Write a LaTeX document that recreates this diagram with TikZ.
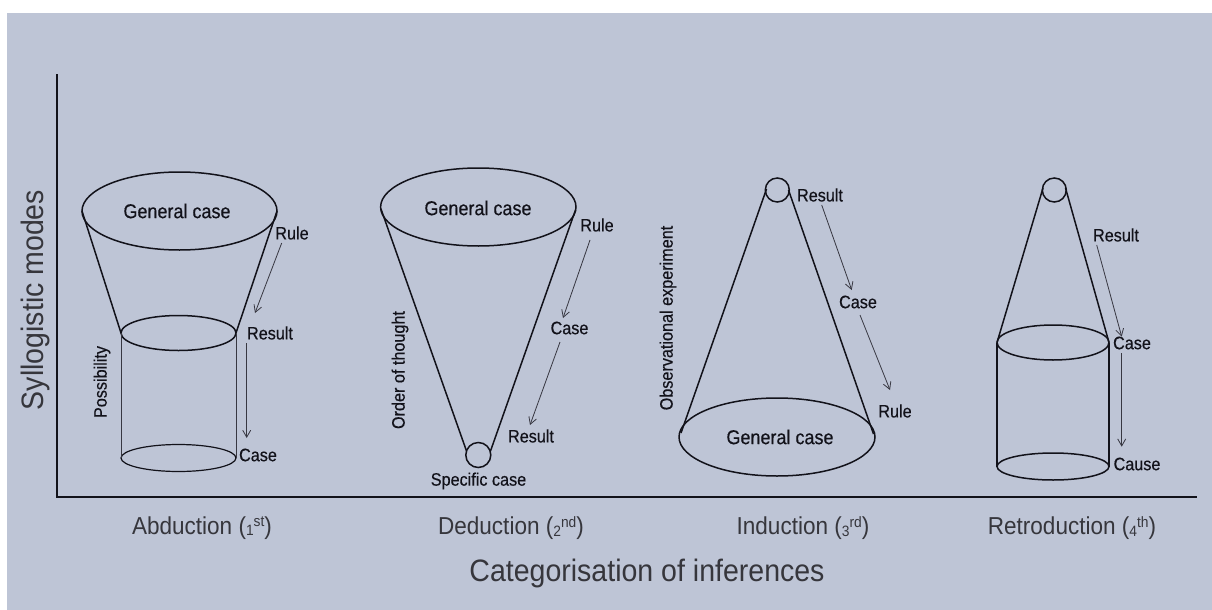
\documentclass[tikz,border=0pt]{standalone}
\usepackage{fontspec}
\setmainfont{Liberation Sans}
\newfontfamily\labelfont[FakeStretch=0.9,FakeBold=0.4]{Liberation Sans}
\newfontfamily\axisfont[FakeStretch=0.92]{Liberation Sans}
\usetikzlibrary{arrows.meta}

\definecolor{panel}{RGB}{190,197,214}
\definecolor{ink}{RGB}{18,18,26}
\definecolor{thinink}{RGB}{55,55,65}

% ordinal such as 1st: small digit on the line, suffix raised
\newcommand{\ordinalmark}[2]{({\fontsize{15}{15}\selectfont\raisebox{-1.5pt}{#1}\raisebox{7.5pt}{#2}})}

\tikzset{
  outline/.style={draw=ink, line width=1.5pt},
  rimline/.style={draw=ink, line width=1.2pt},
  hairline/.style={draw=thinink, line width=0.7pt},
  flow/.style={draw=thinink, line width=0.8pt, -{Straight Barb[length=7pt,width=8pt]}},
  lbl/.style={inner sep=0pt, font=\labelfont\fontsize{18}{20}\selectfont, text=ink},
  biglbl/.style={inner sep=0pt, font=\labelfont\fontsize{20}{22}\selectfont, text=ink},
  axlbl/.style={inner sep=0pt, font=\axisfont\fontsize{24.5}{26}\selectfont, text=ink!85},
  titlelbl/.style={inner sep=0pt, font=\axisfont\fontsize{31}{33}\selectfont, text=ink!85},
  axis/.style={draw=ink, line width=2.2pt},
}

\begin{document}
\begin{tikzpicture}[x=1pt,y=-1pt]
\useasboundingbox (0,0) rectangle (1212,610);
\fill[white] (0,0) rectangle (1212,610);
\fill[panel] (7,13) rectangle (1212,610);

% axes
\coordinate (ytop) at (57,74);
\coordinate (origin) at (57,497.3);
\coordinate (xend) at (1196.7,497.3);
\draw[axis] (ytop) -- (origin) -- (xend);
\node[titlelbl, rotate=90] (ylab) at (35,300) {Syllogistic modes};
\node[titlelbl] (xlab) at (647,573) {Categorisation of inferences};

% ---------- Abduction ----------
\draw[outline] (179.5,211) ellipse [x radius=97.5pt, y radius=39pt];
\draw[outline] (178.5,333) ellipse [x radius=57.5pt, y radius=17.5pt];
\draw[rimline] (178.5,458) ellipse [x radius=57.5pt, y radius=13.5pt];
\draw[outline] (82,211) -- (121,333);
\draw[outline] (277,211) -- (236,333);
\draw[hairline] (121,333) -- (121,458);
\draw[hairline] (236,333) -- (236,458);
\node[biglbl] (abd-gen) at (177,211) {General case};
\node[lbl] (abd-rule) at (292,233) {Rule};
\node[lbl] (abd-res) at (270,333) {Result};
\node[lbl] (abd-case) at (258,455) {Case};
\node[lbl, rotate=90] (abd-poss) at (102,382) {Possibility};
\coordinate (abd-a1) at (281.7,243);
\coordinate (abd-a2) at (255,313);
\coordinate (abd-a3) at (246.7,343);
\coordinate (abd-a4) at (246.7,438);
\draw[flow] (abd-a1) -- (abd-a2);
\draw[flow] (abd-a3) -- (abd-a4);
\node[axlbl] (abd-name) at (202,528) {Abduction \ordinalmark{1}{st}};

% ---------- Deduction ----------
\draw[outline] (478.3,207) ellipse [x radius=97.7pt, y radius=39pt];
\draw[outline] (478.3,455) circle [radius=12.5pt];
\draw[outline] (381,209) -- (466.5,451);
\draw[outline] (575.5,210) -- (490.5,451);
\node[biglbl] (ded-gen) at (478,208) {General case};
\node[lbl] (ded-rule) at (597,225) {Rule};
\node[lbl] (ded-case) at (569.5,328) {Case};
\node[lbl] (ded-res) at (531,436) {Result};
\node[lbl] (ded-spec) at (478.5,481) {Specific case};
\node[lbl, rotate=90] (ded-order) at (400,370) {Order of thought};
\coordinate (ded-a1) at (590,240);
\coordinate (ded-a2) at (563,318);
\coordinate (ded-a3) at (560,342);
\coordinate (ded-a4) at (530,425);
\draw[flow] (ded-a1) -- (ded-a2);
\draw[flow] (ded-a3) -- (ded-a4);
\node[axlbl] (ded-name) at (511,528) {Deduction \ordinalmark{2}{nd}};

% ---------- Induction ----------
\draw[outline] (777.3,190) circle [radius=12pt];
\draw[outline] (777,437) ellipse [x radius=98pt, y radius=39pt];
\draw[outline] (766.5,189) -- (681,433);
\draw[outline] (788.5,190) -- (873.5,434);
\node[biglbl] (ind-gen) at (780,437) {General case};
\node[lbl] (ind-res) at (820,195) {Result};
\node[lbl] (ind-case) at (858,302) {Case};
\node[lbl] (ind-rule) at (895,411) {Rule};
\node[lbl, rotate=90] (ind-obs) at (668,318) {Observational experiment};
\coordinate (ind-a1) at (821.7,205);
\coordinate (ind-a2) at (851.7,290);
\coordinate (ind-a3) at (860,315);
\coordinate (ind-a4) at (890,390);
\draw[flow] (ind-a1) -- (ind-a2);
\draw[flow] (ind-a3) -- (ind-a4);
\node[axlbl] (ind-name) at (803,528) {Induction \ordinalmark{3}{rd}};

% ---------- Retroduction ----------
\draw[outline] (1054.3,190) circle [radius=12pt];
\draw[outline] (1053,342.5) ellipse [x radius=56pt, y radius=17.5pt];
\draw[outline] (1053,466.5) ellipse [x radius=56pt, y radius=13.5pt];
\draw[rimline] (997,342.5) -- (997,466.5);
\draw[rimline] (1109,342.5) -- (1109,466.5);
\draw[outline] (1043,188) -- (997,342.5);
\draw[outline] (1065.5,188) -- (1109,342.5);
\node[lbl] (ret-res) at (1116,235) {Result};
\node[lbl] (ret-case) at (1132,343) {Case};
\node[lbl] (ret-cause) at (1137,464) {Cause};
\coordinate (ret-a1) at (1096.7,245);
\coordinate (ret-a2) at (1121.7,336.7);
\coordinate (ret-a3) at (1121.7,353);
\coordinate (ret-a4) at (1121.7,446.7);
\draw[flow] (ret-a1) -- (ret-a2);
\draw[flow] (ret-a3) -- (ret-a4);
\node[axlbl] (ret-name) at (1072,528) {Retroduction \ordinalmark{4}{th}};
\end{tikzpicture}
\end{document}
